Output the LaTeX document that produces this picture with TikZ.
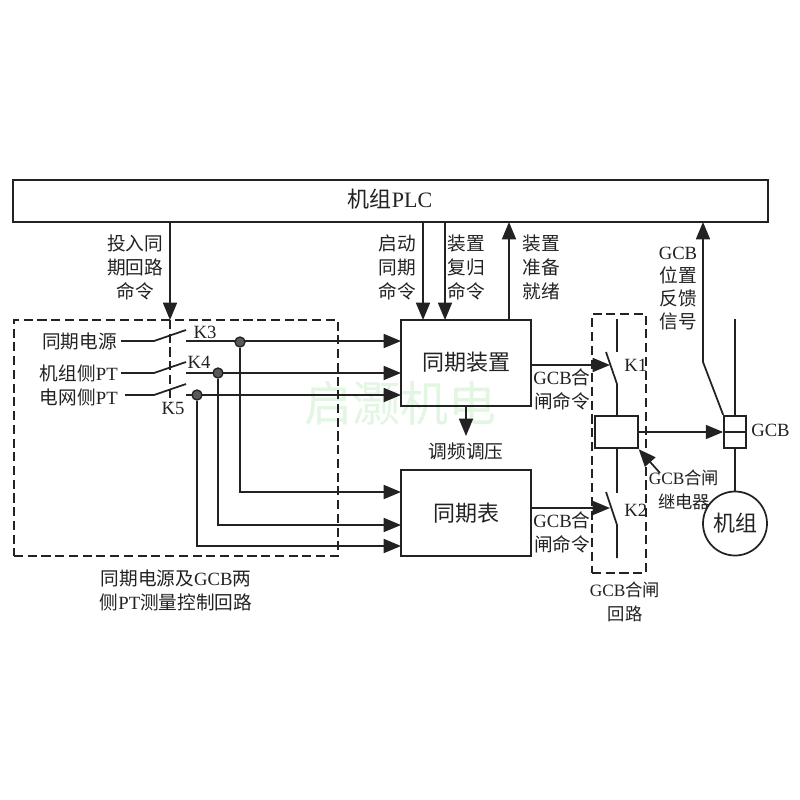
\documentclass[tikz,border=0pt]{standalone}
\usepackage{fontspec}
\setmainfont{Liberation Serif}
\newfontfamily\cjkf{Noto Sans CJK SC}
\newcommand{\zh}[1]{{\cjkf #1}}
\usetikzlibrary{arrows.meta,calc}
\definecolor{ink}{HTML}{222222}
\definecolor{wmgreen}{HTML}{E2F6E2}
\tikzset{
  wire/.style={draw=ink,line width=1.3pt},
  arr/.style={wire,-{Triangle[length=13pt,width=10.5pt]}},
  dashbox/.style={draw=ink,line width=1.2pt,dash pattern=on 6.8pt off 3.5pt},
  box/.style={draw=ink,line width=1.3pt,inner sep=0pt,fill=white},
  openbox/.style={draw=ink,line width=1.3pt,inner sep=0pt},
  lab/.style={text=ink,font=\fontsize{14pt}{18pt}\selectfont,align=center,inner sep=0pt},
  labtight/.style={lab,font=\fontsize{14pt}{17.25pt}\selectfont},
  labsmall/.style={lab,font=\fontsize{13pt}{17.5pt}\selectfont},
  big/.style={text=ink,font=\fontsize{16.5pt}{20pt}\selectfont,align=center,inner sep=0pt},
  dot/.style={circle,draw=ink,fill=gray!70!black,line width=1pt,minimum size=7.5pt,inner sep=0pt},
}
\begin{document}
\begin{tikzpicture}[x=0.75pt,y=-0.75pt]
\useasboundingbox (0,0) rectangle (800,800);
\fill[white] (0,0) rectangle (800,800);

% watermark
\node[text=wmgreen,font=\fontsize{36pt}{36pt}\selectfont,inner sep=0pt] (wm) at (400,403) {\zh{启灏机电}};

% dashed groups
\node[dashbox,minimum width=243pt,minimum height=177pt,inner sep=0pt] (leftgrp) at (176,438) {};
\node[dashbox,minimum width=40.5pt,minimum height=194pt,inner sep=0pt] (rightgrp) at (619,443.5) {};

% main boxes
\node[box,minimum width=566pt,minimum height=31.5pt] (plc) at (390.5,201) {};
\node[big] (plctext) at (390,199) {\zh{机组}PLC};
\node[openbox,minimum width=97.5pt,minimum height=64.5pt] (sync) at (466,363) {};
\node[big] (synctext) at (466,362) {\zh{同期装置}};
\node[openbox,minimum width=97.5pt,minimum height=64.5pt] (meter) at (466,513) {};
\node[big] (metertext) at (466,513) {\zh{同期表}};
\node[box,minimum width=32pt,minimum height=24.5pt] (relay) at (616.5,432) {};
\node[box,minimum width=16.5pt,minimum height=24.5pt] (gcb) at (735,432) {};
\draw[wire] (gcb.west) -- (gcb.east);
\node[circle,draw=ink,line width=1.3pt,minimum size=48pt,inner sep=0pt] (unit) at (735,523.5) {};
\node[big] (unittext) at (735,523) {\zh{机组}};

% PLC links
\coordinate (cmdA) at (170,222);
\coordinate (cmdAend) at (170,320);
\draw[arr] (cmdA) -- (cmdAend);
\coordinate (kbarEnd) at (170,403);
\draw[dashbox] (cmdAend) -- (kbarEnd);
\coordinate (s1) at (423,222); \coordinate (s1e) at (423,320);
\draw[arr] (s1) -- (s1e);
\coordinate (s2) at (445,222); \coordinate (s2e) at (445,320);
\draw[arr] (s2) -- (s2e);
\coordinate (s3) at (509,320); \coordinate (s3e) at (509,222);
\draw[arr] (s3) -- (s3e);

% source labels
\node[lab,anchor=east] (src1) at (117,341) {\zh{同期电源}};
\node[lab,anchor=east] (src2) at (118,373) {\zh{机组侧}PT};
\node[lab,anchor=east] (src3) at (118,397) {\zh{电网侧}PT};
\node[lab] (k3) at (205,332) {K3};
\node[lab] (k4) at (199,362) {K4};
\node[lab] (k5) at (173,408) {K5};

% switches
\coordinate (a1) at (154,341); \coordinate (a2) at (186,330); \coordinate (a3) at (186,341);
\coordinate (b1) at (154,373); \coordinate (b2) at (186,362); \coordinate (b3) at (186,373);
\coordinate (c1) at (154,395); \coordinate (c2) at (186,384); \coordinate (c3) at (186,395);
\coordinate (a0) at (121,341); \coordinate (b0) at (121,373); \coordinate (c0) at (125,395);
\draw[wire] (a0) -- (a1) -- (a2);
\draw[wire] (b0) -- (b1) -- (b2);
\draw[wire] (c0) -- (c1) -- (c2);

\coordinate (ti1) at (401,341); \coordinate (ti2) at (401,373); \coordinate (ti3) at (401,395);
\coordinate (tm1) at (401,492); \coordinate (tm2) at (401,525); \coordinate (tm3) at (401,546);
\draw[arr] (a3) -- (ti1);
\draw[arr] (b3) -- (ti2);
\draw[arr] (c3) -- (ti3);
\node[dot] (j1) at (240,342) {};
\node[dot] (j2) at (218,373) {};
\node[dot] (j3) at (197,395) {};
\draw[arr] (j1.south) |- (tm1);
\draw[arr] (j2.south) |- (tm2);
\draw[arr] (j3.south) |- (tm3);

% sync to meter
\coordinate (adj) at (466,436);
\draw[arr] (sync.south) -- (adj);
\node[lab] (adjt) at (466,451) {\zh{调频调压}};

% K1, K2
\coordinate (k1a) at (617,319); \coordinate (k1b) at (617,352);
\coordinate (k1c) at (606,352); \coordinate (k1d) at (617,384);
\draw[wire] (k1a) -- (k1b);
\draw[wire] (k1c) -- (k1d) -- (relay.north -| k1d);
\coordinate (k2a) at (617,558); \coordinate (k2b) at (617,525);
\coordinate (k2c) at (606,492); \coordinate (k2t) at (617,493);
\draw[wire] (relay.south -| k2t) -- (k2t);
\draw[wire] (k2c) -- (k2b) -- (k2a);
\coordinate (k1arr) at (610,365); \coordinate (k2arr) at (610,508);
\draw[arr] (sync.east |- k1arr) -- (k1arr);
\draw[arr] (meter.east |- k2arr) -- (k2arr);
\node[lab] (k1t) at (624,365) [anchor=west] {K1};
\node[lab] (k2t2) at (624,510) [anchor=west] {K2};

% GCB
\draw[arr] (relay.east) -- (gcb.west);
\coordinate (gtop) at (735,319);
\draw[wire] (gtop) -- (gcb.north);
\draw[wire] (gcb.south) -- (unit.north);
\coordinate (fb1) at (703,362); \coordinate (fb2) at (703,222);
\draw[arr] (gcb.north west) -- (fb1) -- (fb2);
\node[lab,anchor=west] (gcbt) at (751,430) {GCB};

% relay pointer
\coordinate (rp) at (660,473);
\draw[arr] (rp) -- (relay.south east);

% labels
\node[lab] (t1) at (135,267) {\zh{投入同}\\\zh{期回路}\\\zh{命令}};
\node[lab] (t2) at (397,267) {\zh{启动}\\\zh{同期}\\\zh{命令}};
\node[lab] (t3) at (466,267) {\zh{装置}\\\zh{复归}\\\zh{命令}};
\node[lab] (t4) at (541,267) {\zh{装置}\\\zh{准备}\\\zh{就绪}};
\node[labtight] (t5) at (678,289) {GCB\\\zh{位置}\\\zh{反馈}\\\zh{信号}};
\node[lab] (t6) at (562,389) {GCB\zh{合}\\\zh{闸命令}};
\node[lab] (t7) at (562,532) {GCB\zh{合}\\\zh{闸命令}};
\node[labsmall] (t8) at (684,490) {GCB\zh{合闸}\\\zh{继电器}};
\node[lab] (t9) at (176,590.5) {\zh{同期电源及}GCB\zh{两}\\\zh{侧}PT\zh{测量控制回路}};
\node[labsmall] (t10) at (625,602) {GCB\zh{合闸}\\\zh{回路}};
\end{tikzpicture}
\end{document}
